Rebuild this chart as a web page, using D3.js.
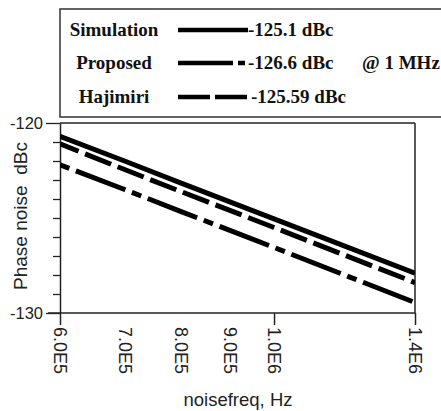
<!DOCTYPE html>
<html>
<head>
<meta charset="utf-8">
<script src="https://cdn.jsdelivr.net/npm/d3@7"></script>
<style>
html,body{margin:0;padding:0;background:#fff;}
svg{display:block;}
</style>
</head>
<body>
<svg id="chart" width="441" height="411"></svg>
<script>
// ---- data ----
const freqs = [6e5, 7e5, 8e5, 9e5, 1e6, 1.4e6];
const simulation = [-120.7, -122.0, -123.15, -124.15, -125.05, -127.9];
const hajimiri   = [-121.1, -122.45, -123.6, -124.6, -125.5, -128.4];
const proposed   = [-122.2, -123.5, -124.65, -125.65, -126.55, -129.45];
const seriesNames = ["Simulation", "Proposed", "Hajimiri"];
const legendValues = ["-125.1 dBc", "-126.6 dBc", "-125.59 dBc"];
const xTickValues = [6e5, 7e5, 8e5, 9e5, 1e6, 1.4e6];
const xTickLabels = ["6.0E5", "7.0E5", "8.0E5", "9.0E5", "1.0E6", "1.4E6"];
const xMajorTicks = [6e5, 1e6, 1.4e6];
const yTickValues = d3.range(-130, -119, 1);
const yTickLabels = {"-120": "-120", "-130": "-130"};

const svg = d3.select("#chart");
const L = 60, R = 415, T = 123, B = 313;
const x = d3.scaleLog().domain([6e5, 1.4e6]).range([L, R]);
const y = d3.scaleLinear().domain([-130, -120]).range([B, T]);
const axisColor = "#222";

// ---- legend box ----
const lg = svg.append("g");
lg.append("rect").attr("x", 60).attr("y", 9).attr("width", 400).attr("height", 108)
  .attr("fill", "none").attr("stroke", "#333").attr("stroke-width", 1.5);
const rowsY = [30, 63, 97];
const dashes = [null, null, null];
// legend samples
const ls = [
  {name: seriesNames[0], dash: null},
  {name: seriesNames[1], dash: "55,5,7,100"},
  {name: seriesNames[2], dash: "32,5,32,100"}
];
ls.forEach((d, i) => {
  lg.append("text").attr("x", 114).attr("y", rowsY[i] + 6)
    .attr("text-anchor", "middle")
    .attr("font-family", "'Liberation Serif', 'Times New Roman', serif")
    .attr("font-weight", "bold").attr("font-size", 19).attr("fill", "#111")
    .text(d.name);
  const ln = lg.append("line").attr("x1", 178).attr("x2", i === 0 ? 248 : 247)
    .attr("y1", rowsY[i]).attr("y2", rowsY[i])
    .attr("stroke", "#000").attr("stroke-width", 4.5);
  if (d.dash) ln.attr("stroke-dasharray", d.dash);
  lg.append("text").attr("x", i === 2 ? 251 : 248).attr("y", rowsY[i] + 6)
    .attr("font-family", "'Liberation Serif', 'Times New Roman', serif")
    .attr("font-weight", "bold").attr("font-size", 19).attr("fill", "#111")
    .text(legendValues[i]);
});
lg.append("text").attr("x", 362).attr("y", rowsY[1] + 6)
  .attr("font-family", "'Liberation Serif', 'Times New Roman', serif")
  .attr("font-weight", "bold").attr("font-size", 19).attr("fill", "#111")
  .text("@ 1 MHz");

// ---- frame ----
svg.append("line").attr("x1", L).attr("x2", R).attr("y1", T).attr("y2", T)
  .attr("stroke", axisColor).attr("stroke-width", 1.5);
svg.append("line").attr("x1", R).attr("x2", R).attr("y1", T).attr("y2", B)
  .attr("stroke", axisColor).attr("stroke-width", 1.5);

// ---- y axis ----
const yAxis = d3.axisLeft(y).tickValues(yTickValues)
  .tickSize(7).tickSizeOuter(0)
  .tickFormat(v => yTickLabels[String(v)] || "");
const gy = svg.append("g").attr("transform", `translate(${L},0)`).call(yAxis);
gy.select(".domain").attr("stroke", axisColor).attr("stroke-width", 1.5);
gy.selectAll(".tick line").attr("stroke", axisColor).attr("stroke-width", 1.3)
  .attr("x2", v => (yTickLabels[String(v)] ? -14 : -7));
gy.selectAll(".tick text").attr("x", -17)
  .attr("font-family", "'Liberation Sans', Arial, sans-serif")
  .attr("font-size", 16.5).attr("fill", "#222");

// ---- x axis ----
const xAxis = d3.axisBottom(x).tickValues(xTickValues).tickSizeOuter(0)
  .tickFormat((v, i) => xTickLabels[i]);
const gx = svg.append("g").attr("transform", `translate(0,${B})`).call(xAxis);
gx.select(".domain").attr("stroke", axisColor).attr("stroke-width", 1.5)
  .attr("d", `M${L - 12},0H${R}`);
gx.selectAll(".tick line").attr("stroke", axisColor).attr("stroke-width", 1.5)
  .attr("y2", v => (xMajorTicks.includes(v) ? 12 : 0));
gx.selectAll(".tick text")
  .attr("font-family", "'Liberation Sans', Arial, sans-serif")
  .attr("font-size", 18).attr("fill", "#222")
  .attr("text-anchor", "start")
  .attr("transform", "rotate(90)")
  .attr("x", 14).attr("y", 0).attr("dy", "0.35em");

// ---- axis titles ----
svg.append("text").attr("x", 238).attr("y", 406).attr("text-anchor", "middle")
  .attr("font-family", "'Liberation Sans', Arial, sans-serif")
  .attr("font-size", 18.5).attr("fill", "#222").text("noisefreq, Hz");
svg.append("text").attr("transform", "translate(27,216) rotate(-90)")
  .attr("text-anchor", "middle").style("white-space", "pre")
  .attr("font-family", "'Liberation Sans', Arial, sans-serif")
  .attr("font-size", 19).attr("fill", "#222").text("Phase noise  dBc");

// ---- series ----
const line = d3.line().x(d => x(d[0])).y(d => y(d[1]));
const series = [
  {vals: simulation, dash: null, offset: 0},
  {vals: hajimiri, dash: "28,7", offset: 8},
  {vals: proposed, dash: "10,7,53,7", offset: 0}
];
const clip = svg.append("clipPath").attr("id", "clip")
  .append("rect").attr("x", L).attr("y", T).attr("width", R - L).attr("height", B - T);
series.forEach(s => {
  const p = svg.append("path").datum(freqs.map((f, i) => [f, s.vals[i]]))
    .attr("d", line).attr("fill", "none").attr("stroke", "#000")
    .attr("stroke-width", 5).attr("clip-path", "url(#clip)");
  if (s.dash) p.attr("stroke-dasharray", s.dash).attr("stroke-dashoffset", s.offset);
});
</script>
</body>
</html>
